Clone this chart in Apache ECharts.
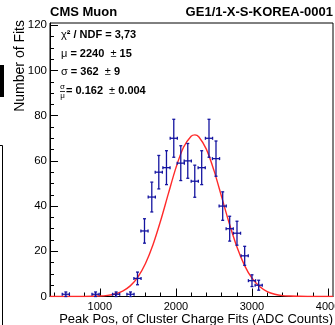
<!DOCTYPE html>
<html>
<head>
<meta charset="utf-8">
<script src="https://cdn.jsdelivr.net/npm/echarts@6/dist/echarts.min.js"></script>
<style>
html, body { margin: 0; padding: 0; background: #fff; }
#main { width: 335px; height: 325px; }
</style>
</head>
<body>
<div id="main"></div>
<script>
// bin centres (ADC counts), entries and their errors
var binX = [553, 944, 1214, 1403, 1495, 1587, 1683, 1775, 1876, 1972, 2064, 2156, 2248, 2339, 2435, 2527, 2615, 2707, 2803, 2904, 3000, 3088];
var binY = [1, 1, 1, 1, 8, 29, 44, 55, 57, 70, 59, 60, 51, 57, 70, 61, 40, 30, 28, 18, 7, 5];
var binErr = [1, 1, 1, 1, 2.8, 5.4, 6.6, 7.4, 7.5, 8.4, 7.7, 7.7, 7.1, 7.5, 8.4, 7.8, 6.3, 5.5, 5.3, 4.2, 2.6, 2.2];
var binHalf = 47;

// gaussian fit
var fitX = [345, 600, 800, 1000, 1100, 1200, 1300, 1400, 1500, 1600, 1700, 1800, 1900, 2000, 2100, 2200, 2250, 2300, 2400, 2500, 2600, 2700, 2800, 2900, 3000, 3100, 3200, 3300, 3400, 3500, 3600, 3800, 4065];
var fitY = [0, 0, 0, 0.2, 0.5, 1.1, 2.4, 4.7, 8.6, 14.6, 23, 33.6, 45.4, 56.9, 66, 70.9, 71.5, 70.7, 65.2, 55.8, 44.2, 32.5, 22.1, 13.9, 8.1, 4.4, 2.2, 1, 0.4, 0.2, 0.1, 0, 0];

// axis ticks
var xMajor = [1000, 2000, 3000, 4000];
var xMinor = [400, 600, 800, 1200, 1400, 1600, 1800, 2200, 2400, 2600, 2800, 3200, 3400, 3600, 3800];
var yMajor = [0, 20, 40, 60, 80, 100, 120];
var yMinor = [5, 10, 15, 25, 30, 35, 45, 50, 55, 65, 70, 75, 85, 90, 95, 105, 110, 115];

var font = "'Liberation Sans', Arial, Helvetica, sans-serif";
var blue = '#1414a0';

var points = binX.map(function (x, i) { return [x, binY[i], binErr[i]]; });
var curve = fitX.map(function (x, i) { return [x, fitY[i]]; });

var myChart = echarts.init(document.getElementById('main'), null, { renderer: 'canvas' });

function axisPair(dim, vmin, vmax, major, minor, pos, labelSize) {
    var common = { type: 'value', min: vmin, max: vmax, position: pos, gridIndex: 0, splitLine: { show: false } };
    return [
        Object.assign({}, common, {
            axisLine: { show: true, lineStyle: { color: '#000', width: 1 } },
            axisTick: { show: true, inside: true, length: 8, customValues: major, lineStyle: { color: '#000' } },
            axisLabel: {
                show: true, customValues: major, color: '#000', fontSize: labelSize, fontFamily: font,
                margin: dim == 'x' ? 5 : 3,
                formatter: function (v) { return String(v); }
            }
        }),
        Object.assign({}, common, {
            axisLine: { show: false },
            axisTick: { show: true, inside: true, length: 4, customValues: minor, lineStyle: { color: '#000' } },
            axisLabel: { show: false }
        })
    ];
}

var option = {
    animation: false,
    backgroundColor: '#fff',
    grid: {
        left: 50, top: 23, width: 283, height: 273.5,
        containLabel: false, outerBoundsMode: 'none',
        show: true, borderColor: '#000', borderWidth: 1, backgroundColor: 'transparent'
    },
    xAxis: axisPair('x', 345, 4065, xMajor, xMinor, 'bottom', 11),
    yAxis: axisPair('y', 0, 121, yMajor, yMinor, 'left', 11.5),
    series: [
        {
            type: 'line',
            data: curve,
            smooth: 0.3,
            symbol: 'none',
            lineStyle: { color: '#ff2a2a', width: 1.4 },
            z: 2
        },
        {
            type: 'custom',
            data: points,
            z: 3,
            renderItem: function (params, api) {
                var x = api.value(0), y = api.value(1), e = api.value(2);
                var c = api.coord([x, y]);
                var l = api.coord([x - binHalf, y]);
                var r = api.coord([x + binHalf, y]);
                var t = api.coord([x, y + e]);
                var b = api.coord([x, Math.max(y - e, 0)]);
                var st = { stroke: blue, lineWidth: 1.3 };
                var cap = 1.5;
                return {
                    type: 'group',
                    children: [
                        { type: 'line', shape: { x1: l[0], y1: c[1], x2: r[0], y2: c[1] }, style: st },
                        { type: 'line', shape: { x1: c[0], y1: t[1], x2: c[0], y2: b[1] }, style: st },
                        { type: 'line', shape: { x1: l[0], y1: c[1] - cap, x2: l[0], y2: c[1] + cap }, style: st },
                        { type: 'line', shape: { x1: r[0], y1: c[1] - cap, x2: r[0], y2: c[1] + cap }, style: st },
                        { type: 'line', shape: { x1: c[0] - cap, y1: t[1], x2: c[0] + cap, y2: t[1] }, style: st },
                        { type: 'line', shape: { x1: c[0] - cap, y1: b[1], x2: c[0] + cap, y2: b[1] }, style: st }
                    ]
                };
            }
        }
    ],
    graphic: [
        // piece of the neighbouring figure on the left edge
        { type: 'rect', shape: { x: 0, y: 65, width: 4, height: 32 }, style: { fill: '#000' } },
        { type: 'polyline', shape: { points: [[0, 145.5], [2.5, 145.5], [2.5, 325]] }, style: { stroke: '#000', lineWidth: 1, fill: null } },

        { type: 'text', x: 50, y: 12, style: { text: 'CMS Muon', font: 'bold 13px ' + font, fill: '#000', verticalAlign: 'middle' } },
        { type: 'text', x: 333, y: 12, style: { text: 'GE1/1-X-S-KOREA-0001', font: 'bold 13px ' + font, fill: '#000', align: 'right', verticalAlign: 'middle' } },

        { type: 'text', x: 333, y: 319, style: { text: 'Peak Pos, of Cluster Charge Fits (ADC Counts)', font: '13px ' + font, fill: '#000', align: 'right', verticalAlign: 'middle' } },
        { type: 'text', x: 20, y: 20, rotation: Math.PI / 2, style: { text: 'Number of Fits', font: '14px ' + font, fill: '#000', align: 'right', verticalAlign: 'middle' } },

        // fit results
        { type: 'text', x: 61, y: 35, style: { text: '{g|χ}{b|² / NDF = 3,73}', verticalAlign: 'middle', rich: {
            g: { fontFamily: font, fontSize: 11, color: '#000' },
            b: { fontFamily: font, fontSize: 11, fontWeight: 'bold', color: '#000' } } } },
        { type: 'text', x: 61, y: 53.5, style: { text: '{g|μ}{b| = 2240 }{g| ± }{b|15}', verticalAlign: 'middle', rich: {
            g: { fontFamily: font, fontSize: 11, color: '#000' },
            b: { fontFamily: font, fontSize: 11, fontWeight: 'bold', color: '#000' } } } },
        { type: 'text', x: 61, y: 72, style: { text: '{g|σ}{b| = 362 }{g| ± }{b|9}', verticalAlign: 'middle', rich: {
            g: { fontFamily: font, fontSize: 11, color: '#000' },
            b: { fontFamily: font, fontSize: 11, fontWeight: 'bold', color: '#000' } } } },
        { type: 'text', x: 62.5, y: 87, style: { text: 'σ', font: '8px ' + font, fill: '#000', align: 'center', verticalAlign: 'middle' } },
        { type: 'line', shape: { x1: 60, y1: 91.5, x2: 65, y2: 91.5 }, style: { stroke: '#000', lineWidth: 0.8 } },
        { type: 'text', x: 62.5, y: 95.5, style: { text: 'μ', font: '8px ' + font, fill: '#000', align: 'center', verticalAlign: 'middle' } },
        { type: 'text', x: 66, y: 91, style: { text: '{b|= 0.162 }{g| ± }{b|0.004}', verticalAlign: 'middle', rich: {
            g: { fontFamily: font, fontSize: 11, color: '#000' },
            b: { fontFamily: font, fontSize: 11, fontWeight: 'bold', color: '#000' } } } }
    ]
};

myChart.setOption(option);
</script>
</body>
</html>
